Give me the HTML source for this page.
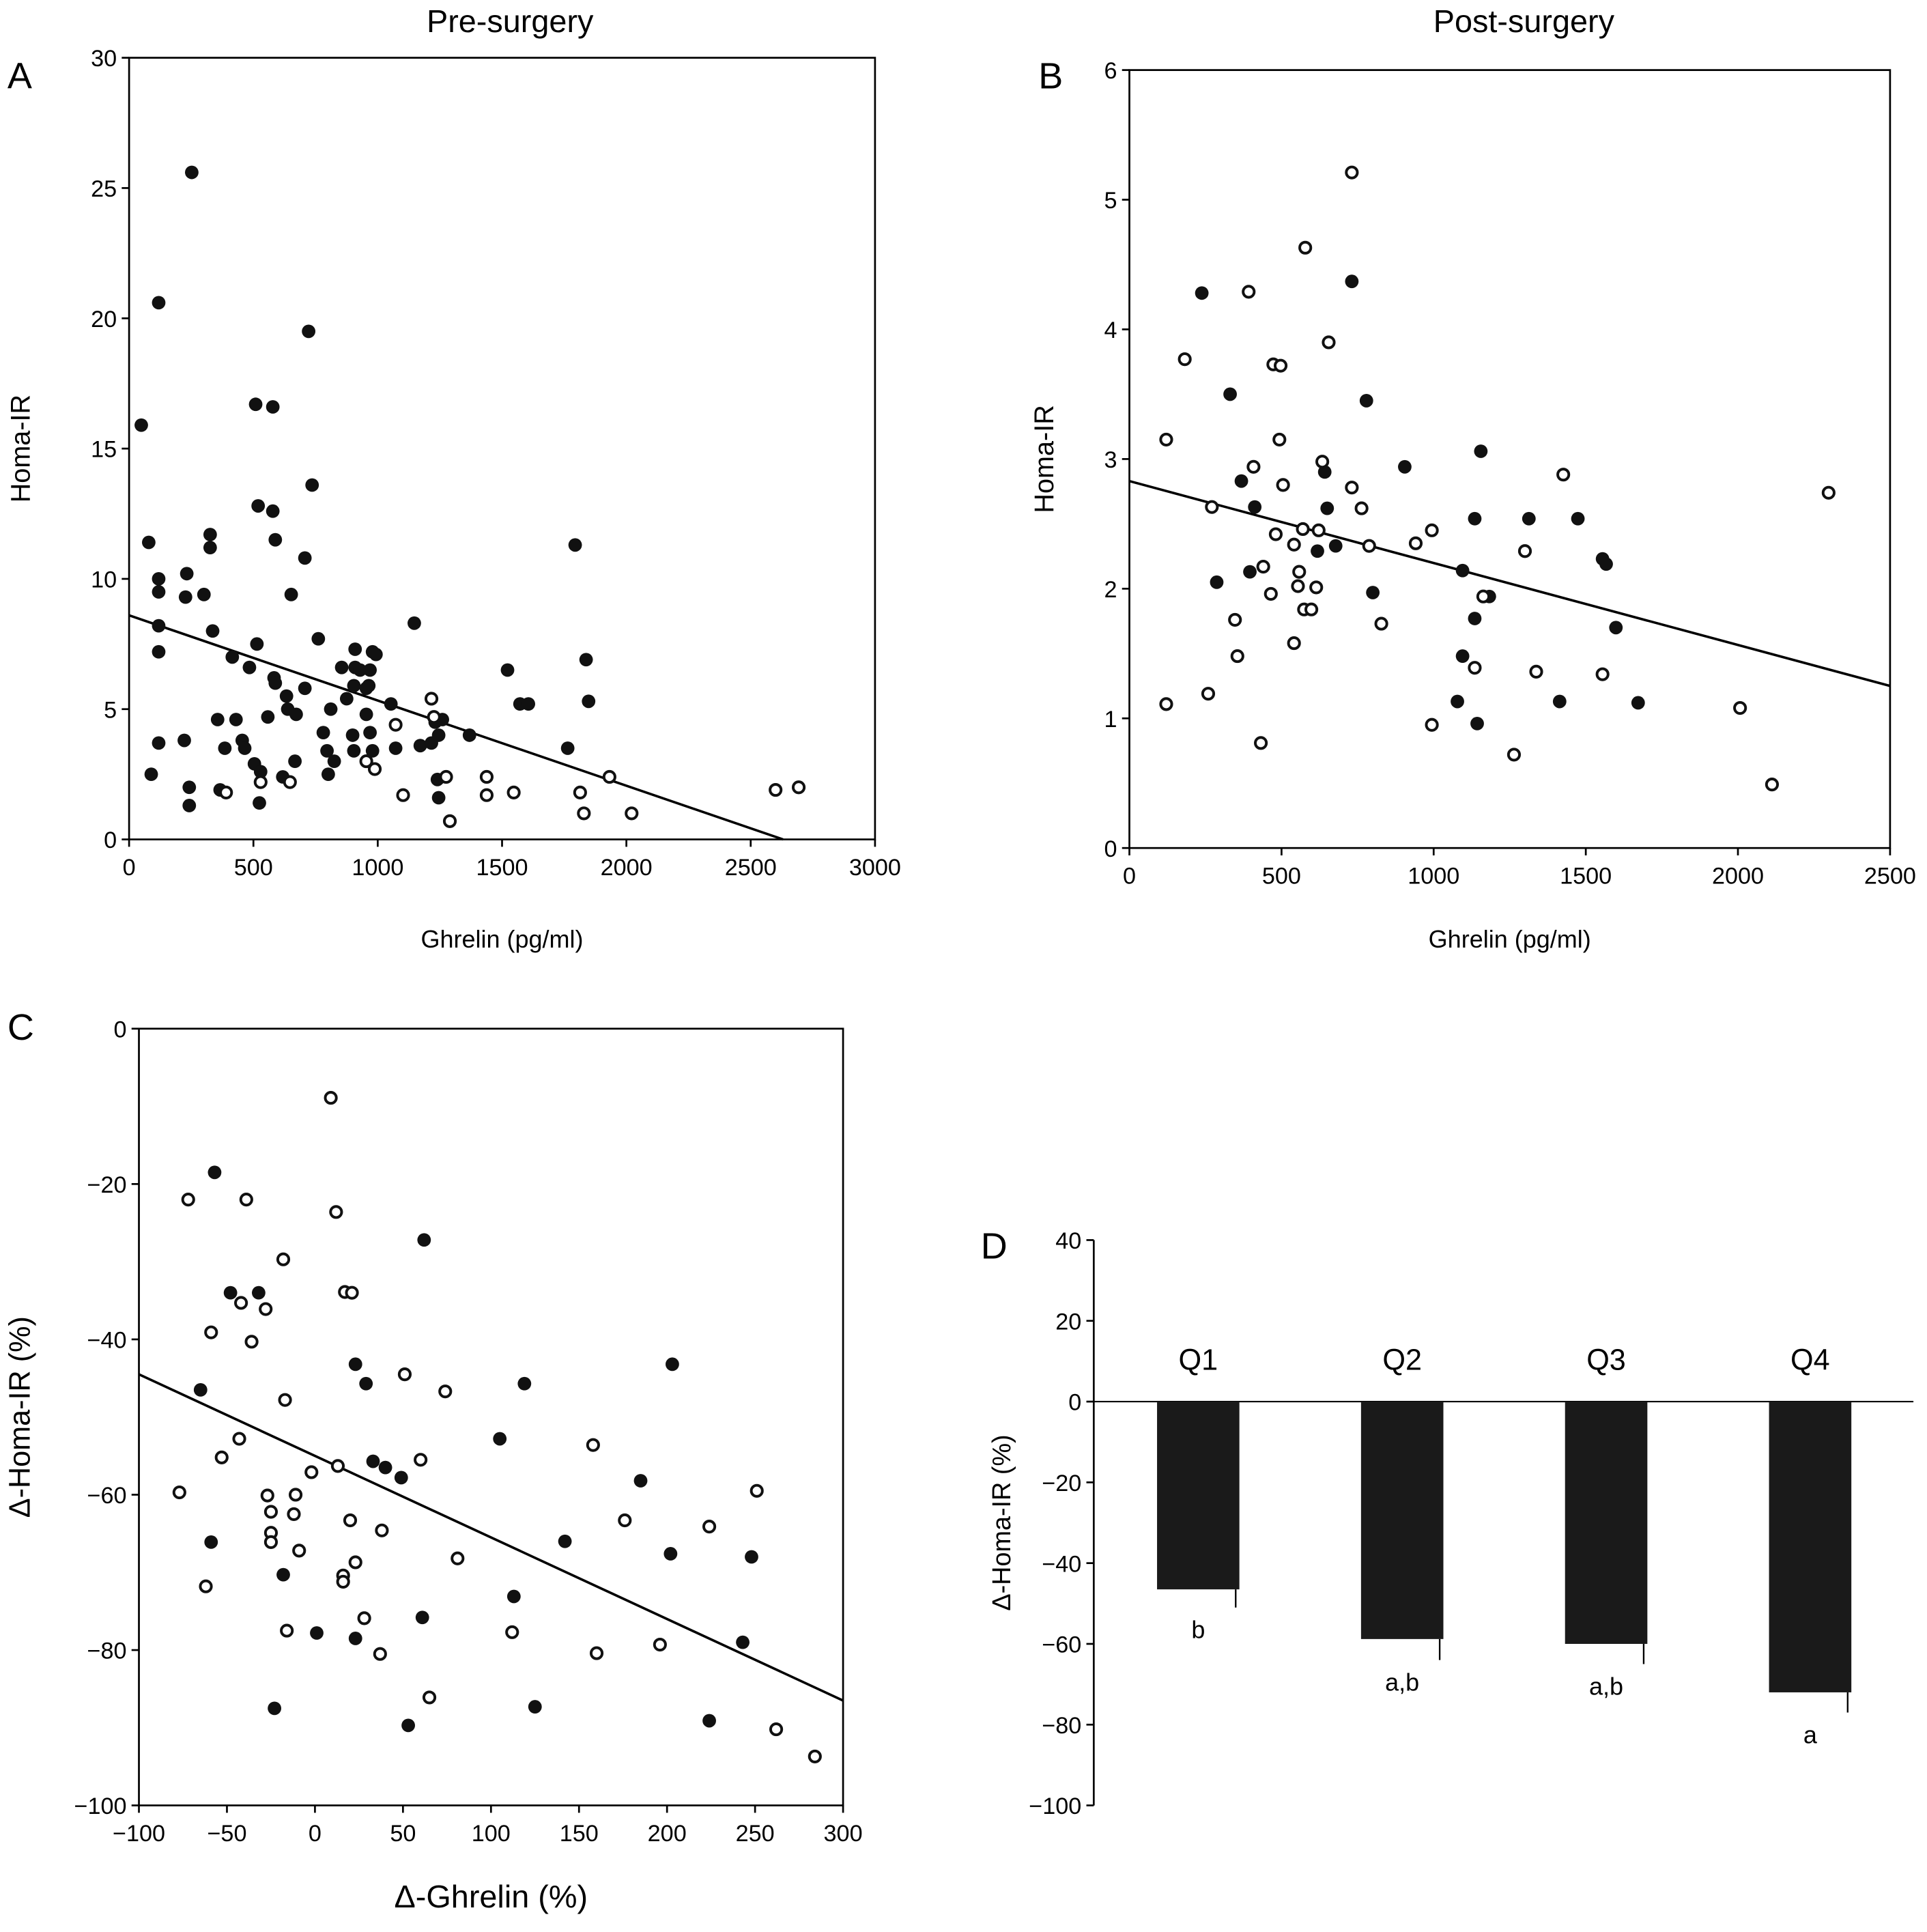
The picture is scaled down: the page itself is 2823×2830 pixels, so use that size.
<!DOCTYPE html>
<html><head><meta charset="utf-8">
<style>
html,body{margin:0;padding:0;background:#fff;}
svg{display:block;font-family:"Liberation Sans",Arial,sans-serif;}
</style></head>
<body>
<svg id="fig" width="2823" height="2830" viewBox="0 0 1568 1572" xmlns="http://www.w3.org/2000/svg">
<rect width="1568" height="1572" fill="#fff"/>
<text x="415" y="26" font-size="26" text-anchor="middle">Pre-surgery</text>
<text x="1240" y="26" font-size="26" text-anchor="middle">Post-surgery</text>
<text x="6" y="72" font-size="30">A</text>
<text x="845" y="72" font-size="30">B</text>
<text x="6" y="846" font-size="30">C</text>
<text x="798" y="1024" font-size="30">D</text>
<g id="plots"></g>
</svg>
<script>
// Panel A data
const aFilledX=[49,252,119,79,119,119,119,119,119,89,232,227,222,242,242,301,326,326,336,356,366,385,415,430,455,465,484,509,519,514,504,524,529,578,578,588,583,588,558,618,633,638,652,667,672,707,722,707,736,761,781,796,801,811,825,855,875,899,904,909,929,904,909,954,964,954,969,979,993,969,979,1053,1072,1147,1171,1216,1231,1245,1240,1245,1260,1369,1522,1572,1606,1764,1794,1838,1848];
const aFilledY=[15.9,25.6,20.6,11.4,10.0,9.5,8.2,7.2,3.7,2.5,10.2,9.3,3.8,2.0,1.3,9.4,11.7,11.2,8.0,4.6,1.9,3.5,7.0,4.6,3.8,3.5,6.6,16.7,12.8,7.5,2.9,1.4,2.6,16.6,12.6,11.5,6.2,6.0,4.7,2.4,5.5,5.0,9.4,3.0,4.8,5.8,19.5,10.8,13.6,7.7,4.1,3.4,2.5,5.0,3.0,6.6,5.4,4.0,3.4,6.6,6.5,5.9,7.3,4.8,5.9,5.8,6.5,7.2,7.1,4.1,3.4,5.2,3.5,8.3,3.6,3.7,4.5,4.0,2.3,1.6,4.6,4.0,6.5,5.2,5.2,3.5,11.3,6.9,5.3];
const aOpenX=[529,647,390,988,954,1072,1102,1216,1226,1275,1290,1438,1438,1547,1814,1829,1932,2021,2600,2693];
const aOpenY=[2.2,2.2,1.8,2.7,3.0,4.4,1.7,5.4,4.7,2.4,0.7,2.4,1.7,1.8,1.8,1.0,2.4,1.0,1.9,2.0];
const aLine=[[0,8.6],[2630,0]];
// Panel B data
const bFilledX=[238,331,287,368,396,412,618,642,650,678,731,779,800,905,1095,1095,1078,1135,1135,1143,1155,1183,1313,1414,1474,1555,1567,1599,1672];
const bFilledY=[4.28,3.5,2.05,2.83,2.13,2.63,2.29,2.9,2.62,2.33,4.37,3.45,1.97,2.94,2.14,1.48,1.13,1.77,2.54,0.96,3.06,1.94,2.54,1.13,2.54,2.23,2.19,1.70,1.12];
const bOpenX=[121,182,121,259,271,347,355,392,408,432,440,465,473,481,497,493,505,541,541,554,558,574,578,570,598,614,622,634,655,731,763,788,731,828,941,994,994,1135,1163,1264,1300,1337,1426,1555,2007,2112,2298];
const bOpenY=[3.15,3.77,1.11,1.19,2.63,1.76,1.48,4.29,2.94,0.81,2.17,1.96,3.73,2.42,3.72,3.15,2.8,2.34,1.58,2.02,2.13,1.84,4.63,2.46,1.84,2.01,2.45,2.98,3.9,2.78,2.62,2.33,5.21,1.73,2.35,2.45,0.95,1.39,1.94,0.72,2.29,1.36,2.88,1.34,1.08,0.49,2.74];
const bLine=[[0,2.83],[2500,1.25]];
// Panel C data
const cFilledX=[-57,-65,-59,-48,-32,-18,-23,1,23,23,29,33,40,49,53,62,61,105,113,119,125,142,185,203,202,224,243,248];
const cFilledY=[-18.5,-46.5,-66.1,-34,-34,-70.3,-87.5,-77.8,-43.2,-78.5,-45.7,-55.7,-56.5,-57.8,-89.7,-27.2,-75.8,-52.8,-73.1,-45.7,-87.3,-66,-58.2,-43.2,-67.6,-89.1,-79,-68];
const cOpenX=[-72,-77,-62,-59,-53,-43,-42,-39,-36,-28,-27,-25,-25,-25,-18,-17,-16,-12,-11,-9,-2,9,12,13,16,16,17,21,20,23,28,38,37,51,60,65,74,81,112,158,160,176,196,224,251,262,284];
const cOpenY=[-22,-59.7,-71.8,-39.1,-55.2,-52.8,-35.3,-22,-40.3,-36.1,-60.1,-62.2,-64.9,-66.1,-29.7,-47.8,-77.5,-62.5,-60,-67.2,-57.1,-8.9,-23.6,-56.3,-70.4,-71.2,-33.9,-34,-63.3,-68.7,-75.9,-64.6,-80.5,-44.5,-55.5,-86.1,-46.7,-68.2,-77.7,-53.6,-80.4,-63.3,-79.3,-64.1,-59.5,-90.2,-93.7];
const cLine=[[-100,-44.5],[300,-86.5]];
// Panel D data
const dCats=["Q1","Q2","Q3","Q4"];
const dValues=[-46.5,-58.8,-60,-72];
const dErrors=[4.5,5.2,5,5];
const dLetters=["b","a,b","a,b","a"];
const dTicks=[40,20,0,-20,-40,-60,-80,-100];

const NS="http://www.w3.org/2000/svg";
const root=document.getElementById('plots');
function mk(tag,attrs,parent){const e=document.createElementNS(NS,tag);for(const k in attrs)e.setAttribute(k,attrs[k]);(parent||root).appendChild(e);return e;}
function txt(x,y,s,size,anchor,parent){const t=mk('text',{x:x,y:y,'font-size':size,'text-anchor':anchor||'middle'},parent);t.textContent=s;return t;}

function scatter(cfg){
  const g=mk('g',{});
  
  
  const sx=v=>cfg.x0+(v-cfg.xmin)/(cfg.xmax-cfg.xmin)*(cfg.x1-cfg.x0);
  const sy=v=>cfg.y0-(v-cfg.ymin)/(cfg.ymax-cfg.ymin)*(cfg.y0-cfg.y1);
  const frame=mk('rect',{x:cfg.x0,y:cfg.y1,width:cfg.x1-cfg.x0,height:cfg.y0-cfg.y1,fill:'none',stroke:'#000','stroke-width':1.5},g);
  
  
  for(const v of cfg.xticks){const x=sx(v);mk('line',{x1:x,x2:x,y1:cfg.y0,y2:cfg.y0+6,stroke:'#000','stroke-width':1.5},g);
    const t=txt(x,cfg.y0+29,v<0?'\u2212'+(-v):String(v),cfg.tickSize||19,'middle',g);
    }
  for(const v of cfg.yticks){const y=sy(v);mk('line',{x1:cfg.x0-6,x2:cfg.x0,y1:y,y2:y,stroke:'#000','stroke-width':1.5},g);
    const t=txt(cfg.x0-10,y+7,v<0?'\u2212'+(-v):String(v),cfg.tickSize||19,'end',g);
    }
  const ln=mk('line',{x1:sx(cfg.line[0][0]),y1:sy(cfg.line[0][1]),x2:sx(cfg.line[1][0]),y2:sy(cfg.line[1][1]),stroke:'#000','stroke-width':2},g);
  
  cfg.fx.forEach((v,i)=>{const c=mk('circle',{cx:sx(v),cy:sy(cfg.fy[i]),r:5.5,fill:'#111'},g);
    });
  cfg.ox.forEach((v,i)=>{const c=mk('circle',{cx:sx(v),cy:sy(cfg.oy[i]),r:4.5,fill:'#fff',stroke:'#111','stroke-width':2.2},g);
    });
  const xt=txt((cfg.x0+cfg.x1)/2,cfg.xtY,cfg.xtitle,cfg.xtSize,'middle',g);
  
  const ym=(cfg.y0+cfg.y1)/2;
  const yt=mk('text',{x:cfg.ytX,y:ym,'font-size':cfg.ytSize,'text-anchor':'middle',transform:`rotate(-90 ${cfg.ytX} ${ym})`},g);
  yt.textContent=cfg.ytitle;
  
}
const rng=(a,b,s)=>{const r=[];for(let v=a;v<=b+1e-9;v+=s)r.push(v);return r;};

scatter({name:'panel-a-scatter',x0:105,x1:712,y0:683,y1:47,xmin:0,xmax:3000,ymin:0,ymax:30,
  xticks:rng(0,3000,500),yticks:rng(0,30,5),fx:aFilledX,fy:aFilledY,ox:aOpenX,oy:aOpenY,line:aLine,
  xtitle:'Ghrelin (pg/ml)',xtY:771,xtSize:20,ytitle:'Homa-IR',ytX:24,ytSize:22});
scatter({name:'panel-b-scatter',x0:919,x1:1538,y0:690,y1:57,xmin:0,xmax:2500,ymin:0,ymax:6,
  xticks:rng(0,2500,500),yticks:rng(0,6,1),fx:bFilledX,fy:bFilledY,ox:bOpenX,oy:bOpenY,line:bLine,
  xtitle:'Ghrelin (pg/ml)',xtY:771,xtSize:20,ytitle:'Homa-IR',ytX:857,ytSize:22});
scatter({name:'panel-c-scatter',x0:113,x1:686,y0:1469,y1:837,xmin:-100,xmax:300,ymin:-100,ymax:0,
  xticks:rng(-100,300,50),yticks:rng(-100,0,20),fx:cFilledX,fy:cFilledY,ox:cOpenX,oy:cOpenY,line:cLine,
  xtitle:'\u0394-Ghrelin (%)',xtY:1552,xtSize:26,ytitle:'\u0394-Homa-IR (%)',ytX:24,ytSize:24});

// Panel D bar chart
(function(){
  const g=mk('g',{});
  
  
  const x0=890,ytop=1009,ybot=1469,vmax=40,vmin=-100;
  const sy=v=>ytop+(vmax-v)/(vmax-vmin)*(ybot-ytop);
  const centers=[975,1141,1307,1473];
  const bw=67;
  mk('line',{x1:x0,x2:x0,y1:ytop,y2:ybot,stroke:'#000','stroke-width':1.5},g);
  for(const v of dTicks){const y=sy(v);mk('line',{x1:x0-6,x2:x0,y1:y,y2:y,stroke:'#000','stroke-width':1.5},g);
    const t=txt(x0-10,y+7,v<0?'\u2212'+(-v):String(v),19,'end',g);
    }
  const zl=mk('line',{x1:x0,x2:1557,y1:sy(0),y2:sy(0),stroke:'#000','stroke-width':1.2},g);
  
  dValues.forEach((v,i)=>{
    const cx=centers[i];
    const eb=mk('line',{x1:cx+bw/2-3,x2:cx+bw/2-3,y1:sy(v),y2:sy(v-dErrors[i]),stroke:'#000','stroke-width':1.3},g);
    
    const b=mk('rect',{x:cx-bw/2,y:sy(0),width:bw,height:sy(v)-sy(0),fill:'#1a1a1a'},g);
    
    const c=txt(cx,sy(0)-26,dCats[i],24,'middle',g);
    
    const l=txt(cx,sy(v-dErrors[i])+25,dLetters[i],20,'middle',g);
    
  });
  const ym=(ytop+ybot)/2;
  const yt=mk('text',{x:822,y:ym,'font-size':21,'text-anchor':'middle',transform:`rotate(-90 822 ${ym})`},g);
  yt.textContent='\u0394-Homa-IR (%)';
  
})();
</script>
</body></html>
